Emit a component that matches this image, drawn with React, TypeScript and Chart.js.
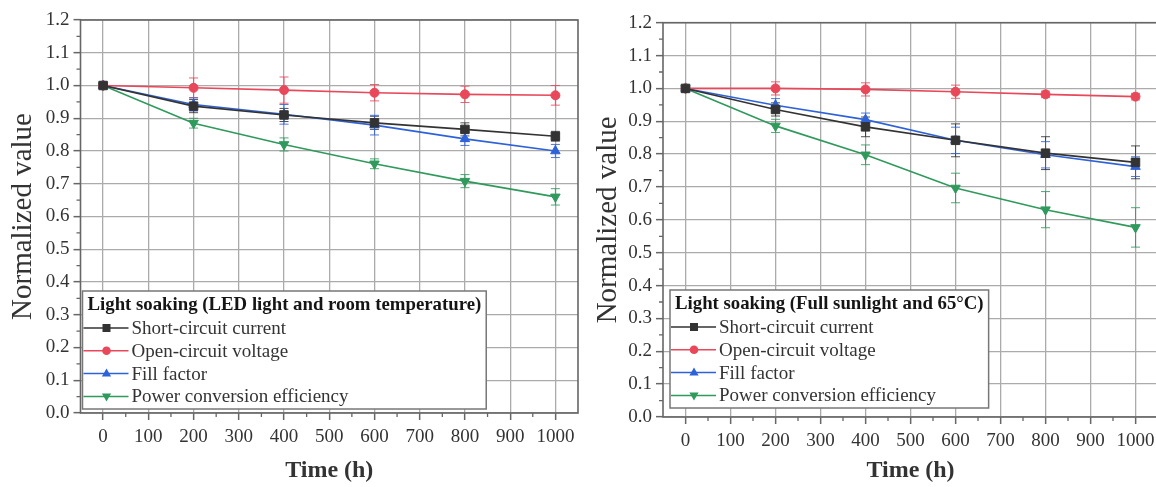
import React, { useEffect, useRef } from "react";
import { Chart, registerables } from "chart.js";

Chart.register(...registerables);

const FONT = '"Liberation Serif", "Times New Roman", serif';

// ---- data ----
const timeHours = [0, 200, 400, 600, 800, 1000];
const xTickValues = [0, 100, 200, 300, 400, 500, 600, 700, 800, 900, 1000];
const xMinorValues = [50, 150, 250, 350, 450, 550, 650, 750, 850, 950];
const yTickValues = [0, 0.1, 0.2, 0.3, 0.4, 0.5, 0.6, 0.7, 0.8, 0.9, 1.0, 1.1, 1.2];
const yMinorValues = [0.05, 0.15, 0.25, 0.35, 0.45, 0.55, 0.65, 0.75, 0.85, 0.95, 1.05, 1.15];

const seriesNames = [
  "Short-circuit current",
  "Open-circuit voltage",
  "Fill factor",
  "Power conversion efficiency",
];

// Left panel: LED light and room temperature
const ledJsc = [1.0, 0.937, 0.91, 0.886, 0.866, 0.845];
const ledJscErr = [0, 0.02, 0.02, 0.02, 0.02, 0.015];
const ledVoc = [1.0, 0.993, 0.986, 0.978, 0.973, 0.97];
const ledVocErr = [0, 0.03, 0.04, 0.025, 0.025, 0.03];
const ledFf = [1.0, 0.942, 0.912, 0.879, 0.837, 0.8];
const ledFfErr = [0, 0.02, 0.03, 0.03, 0.02, 0.02];
const ledPce = [1.0, 0.885, 0.82, 0.761, 0.708, 0.66];
const ledPceErr = [0, 0.015, 0.02, 0.015, 0.02, 0.025];

// Right panel: Full sunlight and 65 C
const sunJsc = [1.0, 0.936, 0.883, 0.842, 0.803, 0.775];
const sunJscErr = [0, 0.02, 0.03, 0.05, 0.05, 0.05];
const sunVoc = [1.0, 1.0, 0.997, 0.99, 0.982, 0.975];
const sunVocErr = [0, 0.02, 0.02, 0.02, 0.01, 0.01];
const sunFf = [1.0, 0.949, 0.905, 0.842, 0.798, 0.762];
const sunFfErr = [0, 0.02, 0.02, 0.04, 0.04, 0.03];
const sunPce = [1.0, 0.886, 0.798, 0.697, 0.631, 0.577];
const sunPceErr = [0, 0.02, 0.03, 0.045, 0.055, 0.06];

const ledTitle = "Light soaking (LED light and room temperature)";
const sunTitle = "Light soaking (Full sunlight and 65°C)";

// ---- styles ----
const COLORS = ["#333333", "#e8485a", "#2e62d9", "#2f9a5c"];
const STYLES = ["rect", "circle", "triangle", "triangle"];
const ROTATIONS = [0, 0, 0, 180];
const RADII = [6, 4.5, 5.5, 5.5];
const GRID = "#ababab";
const FRAME = "#666666";

type Series = { values: number[]; errors: number[] };

function drawMarker(ctx: CanvasRenderingContext2D, i: number, x: number, y: number) {
  ctx.fillStyle = COLORS[i];
  ctx.beginPath();
  if (i === 0) {
    ctx.rect(x - 4, y - 4, 8, 8);
  } else if (i === 1) {
    ctx.arc(x, y, 4.3, 0, Math.PI * 2);
  } else if (i === 2) {
    ctx.moveTo(x, y - 5);
    ctx.lineTo(x + 4.6, y + 3);
    ctx.lineTo(x - 4.6, y + 3);
    ctx.closePath();
  } else {
    ctx.moveTo(x, y + 5);
    ctx.lineTo(x + 4.6, y - 3);
    ctx.lineTo(x - 4.6, y - 3);
    ctx.closePath();
  }
  ctx.fill();
}

function makePlugin(legendTitle: string, series: Series[], legendDx: number, legendDy: number) {
  return {
    id: "customDecor",
    beforeDatasetsDraw(chart: any) {
      const ctx: CanvasRenderingContext2D = chart.ctx;
      const xs = chart.scales.x;
      const ys = chart.scales.y;
      ctx.save();
      series.forEach((s, si) => {
        ctx.strokeStyle = COLORS[si];
        ctx.globalAlpha = 0.85;
        ctx.lineWidth = 1;
        timeHours.forEach((t, i) => {
          const e = s.errors[i];
          if (!e) return;
          const px = xs.getPixelForValue(t);
          const top = ys.getPixelForValue(s.values[i] + e);
          const bot = ys.getPixelForValue(s.values[i] - e);
          ctx.beginPath();
          ctx.moveTo(px, top);
          ctx.lineTo(px, bot);
          ctx.moveTo(px - 4.5, top);
          ctx.lineTo(px + 4.5, top);
          ctx.moveTo(px - 4.5, bot);
          ctx.lineTo(px + 4.5, bot);
          ctx.stroke();
        });
      });
      ctx.restore();
    },
    afterDraw(chart: any) {
      const ctx: CanvasRenderingContext2D = chart.ctx;
      const a = chart.chartArea;
      const xs = chart.scales.x;
      const ys = chart.scales.y;
      ctx.save();
      // minor ticks
      ctx.strokeStyle = FRAME;
      ctx.lineWidth = 1.3;
      ctx.beginPath();
      xMinorValues.forEach((v) => {
        const px = xs.getPixelForValue(v);
        ctx.moveTo(px, a.bottom);
        ctx.lineTo(px, a.bottom + 4);
      });
      yMinorValues.forEach((v) => {
        const py = ys.getPixelForValue(v);
        ctx.moveTo(a.left, py);
        ctx.lineTo(a.left - 4, py);
      });
      ctx.stroke();
      // frame
      ctx.lineWidth = 1.6;
      ctx.strokeRect(a.left, a.top, a.right - a.left, a.bottom - a.top);

      // legend box
      const boxH = 118;
      const boxLeft = a.left + legendDx;
      const boxTop = a.bottom - legendDy - boxH;
      ctx.font = `bold 18.8px ${FONT}`;
      const tw = ctx.measureText(legendTitle).width;
      const boxW = tw + 10;
      ctx.fillStyle = "#ffffff";
      ctx.fillRect(boxLeft, boxTop, boxW, boxH);
      ctx.strokeStyle = "#777777";
      ctx.lineWidth = 1.5;
      ctx.strokeRect(boxLeft, boxTop, boxW, boxH);
      ctx.textBaseline = "middle";
      ctx.textAlign = "left";
      ctx.fillStyle = "#151515";
      ctx.fillText(legendTitle, boxLeft + 5, boxTop + 14);
      seriesNames.forEach((name, i) => {
        const cy = boxTop + 37 + i * 22.8;
        ctx.strokeStyle = COLORS[i];
        ctx.lineWidth = 1.5;
        ctx.beginPath();
        ctx.moveTo(boxLeft + 1, cy);
        ctx.lineTo(boxLeft + 46, cy);
        ctx.stroke();
        drawMarker(ctx, i, boxLeft + 24, cy);
        ctx.font = `19px ${FONT}`;
        ctx.fillStyle = "#333333";
        ctx.fillText(name, boxLeft + 49, cy + 1);
      });
      ctx.restore();
    },
  };
}

type PanelProps = {
  left: number;
  width: number;
  legendTitle: string;
  series: Series[];
  padTop: number;
  padRight: number;
  yWidth: number;
  xHeight: number;
  legendDx: number;
  legendDy: number;
};

function Panel(p: PanelProps) {
  const ref = useRef<HTMLCanvasElement | null>(null);
  useEffect(() => {
    if (!ref.current) return;
    const datasets = p.series.map((s, i) => ({
      label: seriesNames[i],
      data: timeHours.map((t, j) => ({ x: t, y: s.values[j] })),
      borderColor: COLORS[i],
      backgroundColor: COLORS[i],
      pointBackgroundColor: COLORS[i],
      pointBorderColor: COLORS[i],
      borderWidth: 1.6,
      pointStyle: STYLES[i],
      pointRotation: ROTATIONS[i],
      pointRadius: RADII[i],
      pointBorderWidth: 1,
      tension: 0,
    }));
    const chart = new Chart(ref.current, {
      type: "line",
      data: { datasets } as any,
      options: {
        responsive: false,
        maintainAspectRatio: false,
        animation: false,
        layout: { padding: { top: p.padTop, right: p.padRight, left: 0, bottom: 0 } },
        plugins: { legend: { display: false }, tooltip: { enabled: false } },
        scales: {
          x: {
            type: "linear",
            min: -50,
            max: 1050,
            afterBuildTicks: (s: any) => {
              s.ticks = xTickValues.map((v) => ({ value: v }));
            },
            afterFit: (s: any) => {
              s.height = p.xHeight;
            },
            grid: { color: GRID, lineWidth: 1.3, tickLength: 7, tickColor: FRAME, tickWidth: 1.5 },
            border: { display: false },
            ticks: {
              font: { family: FONT, size: 19 },
              color: "#333333",
              padding: 6,
              maxRotation: 0,
              autoSkip: false,
              callback: (v: any) => String(v),
            },
            title: {
              display: true,
              text: "Time (h)",
              font: { family: FONT, size: 24, weight: "bold" },
              color: "#333333",
              padding: { top: 0, bottom: 1.5 },
            },
          },
          y: {
            type: "linear",
            min: 0,
            max: 1.2,
            afterBuildTicks: (s: any) => {
              s.ticks = yTickValues.map((v) => ({ value: v }));
            },
            afterFit: (s: any) => {
              s.width = p.yWidth;
            },
            grid: { color: GRID, lineWidth: 1.3, tickLength: 7, tickColor: FRAME, tickWidth: 1.5 },
            border: { display: false },
            ticks: {
              font: { family: FONT, size: 19 },
              color: "#333333",
              padding: 4,
              autoSkip: false,
              callback: (v: any) => Number(v).toFixed(1),
            },
            title: {
              display: true,
              text: "Normalized value",
              font: { family: FONT, size: 29 },
              color: "#333333",
              padding: { top: 6, bottom: 0 },
            },
          },
        },
      } as any,
      plugins: [makePlugin(p.legendTitle, p.series, p.legendDx, p.legendDy)],
    });
    return () => chart.destroy();
  }, []);
  return (
    <canvas
      ref={ref}
      width={p.width}
      height={487}
      style={{ position: "absolute", left: p.left, top: 0, width: p.width, height: 487 }}
    />
  );
}

export default function App() {
  const ledSeries: Series[] = [
    { values: ledJsc, errors: ledJscErr },
    { values: ledVoc, errors: ledVocErr },
    { values: ledFf, errors: ledFfErr },
    { values: ledPce, errors: ledPceErr },
  ];
  const sunSeries: Series[] = [
    { values: sunJsc, errors: sunJscErr },
    { values: sunVoc, errors: sunVocErr },
    { values: sunFf, errors: sunFfErr },
    { values: sunPce, errors: sunPceErr },
  ];
  return (
    <div
      style={{
        position: "fixed",
        left: 0,
        top: 0,
        width: 1156,
        height: 487,
        overflow: "hidden",
        background: "#ffffff",
      }}
    >
      <Panel
        left={0}
        width={585}
        legendTitle={ledTitle}
        series={ledSeries}
        padTop={20}
        padRight={7}
        yWidth={80.5}
        xHeight={74}
        legendDx={2}
        legendDy={4}
      />
      <Panel
        left={585}
        width={580}
        legendTitle={sunTitle}
        series={sunSeries}
        padTop={22.7}
        padRight={4.4}
        yWidth={78}
        xHeight={70}
        legendDx={7}
        legendDy={9}
      />
    </div>
  );
}
